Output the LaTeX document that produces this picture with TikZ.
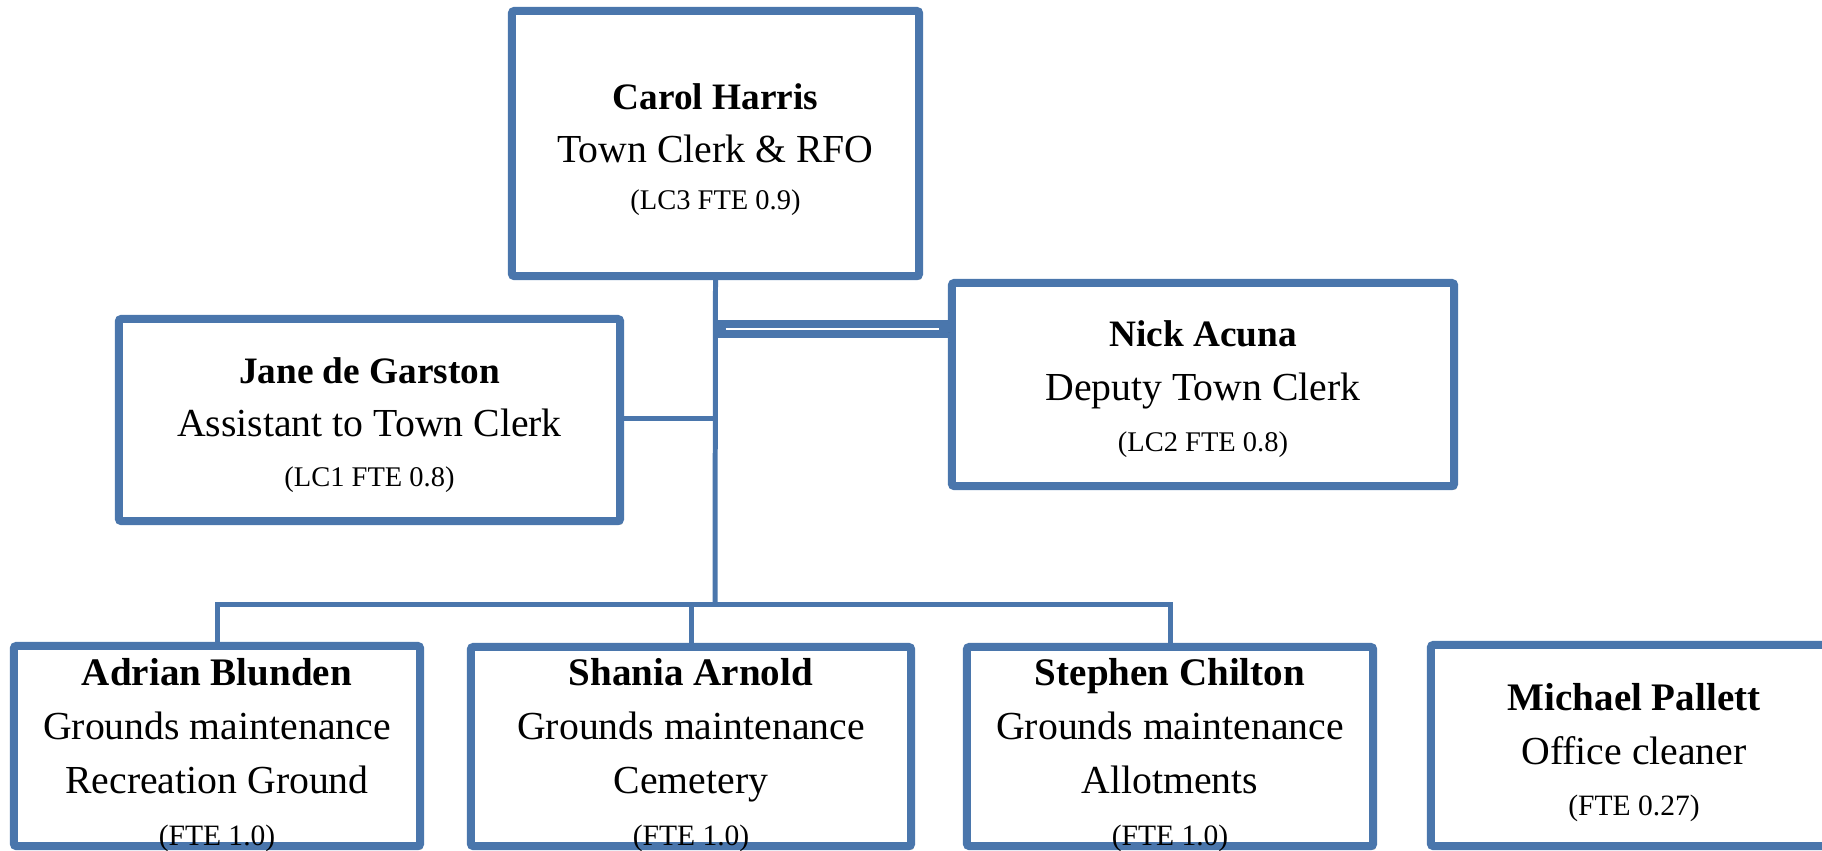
\documentclass[tikz,border=0pt]{standalone}
\usepackage{fontspec}
\setmainfont{Liberation Serif}
\usetikzlibrary{shadows}
\definecolor{obox}{RGB}{74,118,172}
\newcommand{\nmtop}[2]{\rule{0pt}{#1}{\fontsize{10.6pt}{15pt}\selectfont\bfseries #2}}
\newcommand{\nmlow}[2]{\rule{0pt}{#1}{\fontsize{11.1pt}{15pt}\selectfont\bfseries #2}}
\newcommand{\smtop}[1]{{\fontsize{8.1pt}{10pt}\selectfont #1}}
\newcommand{\smlow}[1]{{\fontsize{8.4pt}{10pt}\selectfont #1}}
\begin{document}
\begin{tikzpicture}[x=0.01cm,y=-0.01cm,
  myshadow/.style={drop shadow={shadow xshift=0.7pt, shadow yshift=-1.1pt, opacity=0.28, fill=black}},
  box/.style={draw=obox, line width=2.28pt, fill=white, rounded corners=0.7pt,
    inner xsep=0pt, inner ysep=-12pt, align=center, myshadow},
  upbox/.style={box, font=\fontsize{11.3pt}{15.3pt}\selectfont},
  lowbox/.style={box, font=\fontsize{11.3pt}{15.4pt}\selectfont},
  conn/.style={draw=obox, line width=1.42pt},
]
\useasboundingbox (0,0) rectangle (1822,850);

% top level
\node[upbox, minimum width=4.07cm, minimum height=2.65cm] (carol) at (715.5,143.5)
  {\nmtop{10.8pt}{Carol Harris}\\Town Clerk \& RFO\\[-2pt]\smtop{(LC3 FTE 0.9)}};

% second level
\node[upbox, minimum width=5.01cm, minimum height=2.02cm] (jane) at (369.5,420)
  {\nmtop{10pt}{Jane de Garston}\\Assistant to Town Clerk\\[-1.3pt]\smtop{(LC1 FTE 0.8)}};
\node[upbox, minimum width=5.02cm, minimum height=2.03cm] (nick) at (1203,384.5)
  {\nmtop{10pt}{Nick Acuna}\\Deputy Town Clerk\\[-0.8pt]\smtop{(LC2 FTE 0.8)}};

% bottom level
\node[lowbox, minimum width=4.06cm, minimum height=2.00cm] (adrian) at (217,746)
  {\nmlow{12.7pt}{Adrian Blunden}\\Grounds maintenance\\Recreation Ground\\[-0.6pt]\smlow{(FTE 1.0)}};
\node[lowbox, minimum width=4.40cm, minimum height=1.99cm] (shania) at (691,746.5)
  {\nmlow{12.7pt}{Shania Arnold}\\Grounds maintenance\\Cemetery\\[-0.6pt]\smlow{(FTE 1.0)}};
\node[lowbox, minimum width=4.06cm, minimum height=1.99cm] (stephen) at (1170,746.5)
  {\nmlow{12.7pt}{Stephen Chilton}\\Grounds maintenance\\Allotments\\[-0.6pt]\smlow{(FTE 1.0)}};
\node[lowbox, minimum width=4.06cm, minimum height=2.01cm] (michael) at (1634,745.5)
  {\nmlow{11.5pt}{Michael Pallett}\\Office cleaner\\[-1pt]\smlow{(FTE 0.27)}};

% connectors
\coordinate (bus) at (715,604);
\coordinate (jj) at (715,418);
\coordinate (dl) at (715,329);
\draw[conn] (carol.south) -- (bus);
\draw[conn] (jane.east |- jj) -- (jj);
\draw[conn] (adrian.north) -- (adrian.north |- bus) -- (stephen.north |- bus) -- (stephen.north);
\draw[conn] (shania.north) -- (shania.north |- bus);

% double line to deputy
\draw[draw=obox, line width=5.3pt, myshadow] (dl) -- (nick.west |- dl);
\draw[white, line width=0.55pt] ([xshift=3pt]dl) -- ([xshift=-2.5pt]nick.west |- dl);
\end{tikzpicture}
\end{document}
